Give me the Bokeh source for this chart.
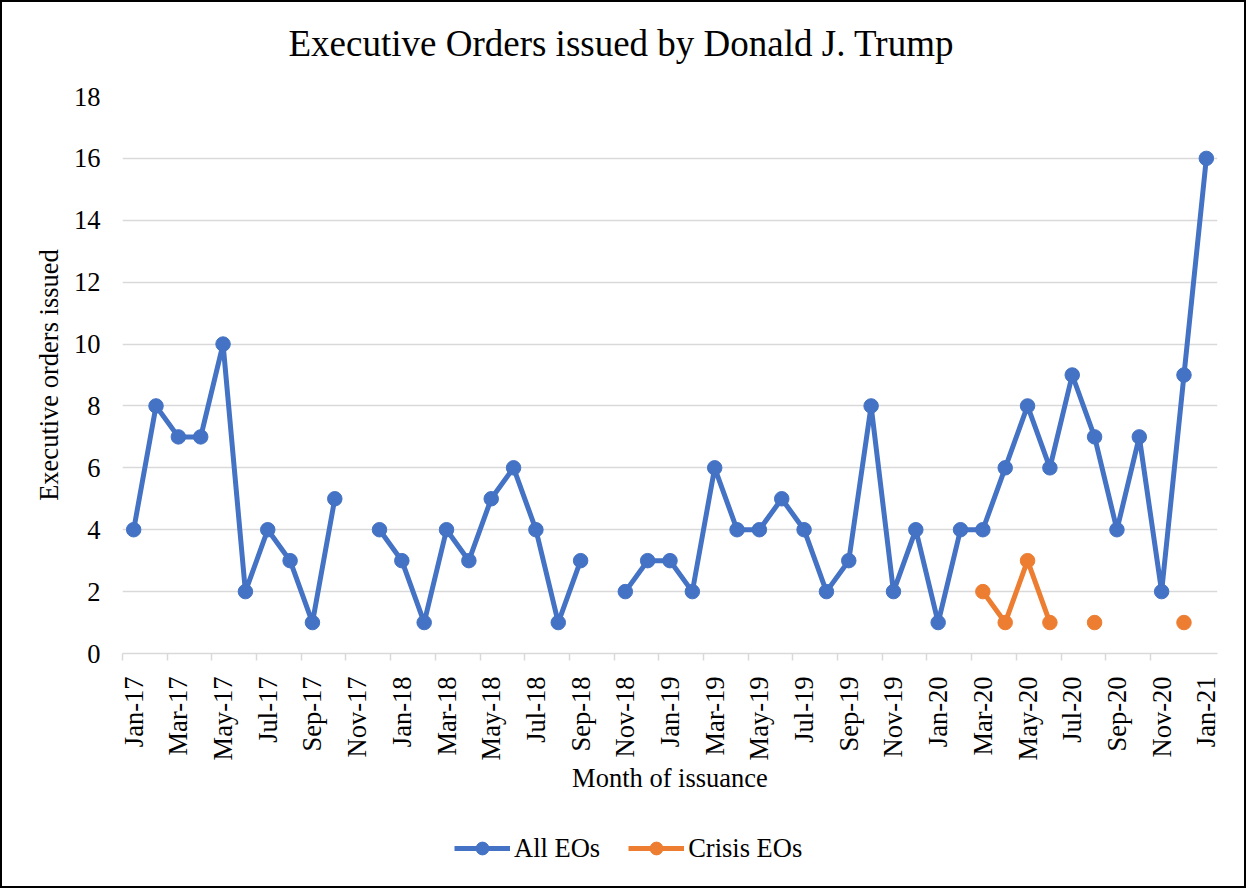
import math
import numpy as np
from bokeh.plotting import figure
from bokeh.layouts import column
from bokeh.models import ColumnDataSource, FixedTicker, Range1d, Legend, LegendItem, Title
from bokeh.embed import file_html
from bokeh.resources import INLINE

# ---------------- data ----------------
months = [
    "Jan-17", "Feb-17", "Mar-17", "Apr-17", "May-17", "Jun-17", "Jul-17", "Aug-17", "Sep-17", "Oct-17", "Nov-17", "Dec-17",
    "Jan-18", "Feb-18", "Mar-18", "Apr-18", "May-18", "Jun-18", "Jul-18", "Aug-18", "Sep-18", "Oct-18", "Nov-18", "Dec-18",
    "Jan-19", "Feb-19", "Mar-19", "Apr-19", "May-19", "Jun-19", "Jul-19", "Aug-19", "Sep-19", "Oct-19", "Nov-19", "Dec-19",
    "Jan-20", "Feb-20", "Mar-20", "Apr-20", "May-20", "Jun-20", "Jul-20", "Aug-20", "Sep-20", "Oct-20", "Nov-20", "Dec-20",
    "Jan-21",
]
all_eos = [
    4, 8, 7, 7, 10, 2, 4, 3, 1, 5, None, 4,
    3, 1, 4, 3, 5, 6, 4, 1, 3, None, 2, 3,
    3, 2, 6, 4, 4, 5, 4, 2, 3, 8, 2, 4,
    1, 4, 4, 6, 8, 6, 9, 7, 4, 7, 2, 9,
    16,
]
crisis_eos = [
    None, None, None, None, None, None, None, None, None, None, None, None,
    None, None, None, None, None, None, None, None, None, None, None, None,
    None, None, None, None, None, None, None, None, None, None, None, None,
    None, None, 2, 1, 3, 1, None, 1, None, None, None, 1,
    None,
]
y_ticks = [0, 2, 4, 6, 8, 10, 12, 14, 16, 18]
series_names = ["All EOs", "Crisis EOs"]

FONT = "Liberation Serif"
BLUE = "#4472C4"
ORANGE = "#ED7D31"
GRID = "#D9D9D9"
LW = 5
MS = 14.5


def to_arr(vals):
    return np.array([np.nan if v is None else float(v) for v in vals])


idx = np.arange(len(months))
src_all = ColumnDataSource(dict(x=idx, y=to_arr(all_eos)))
src_cri = ColumnDataSource(dict(x=idx, y=to_arr(crisis_eos)))

# ---------------- main chart ----------------
p = figure(
    width=1242, height=801,
    output_backend="svg", toolbar_location=None,
    x_range=Range1d(-0.5, len(months) - 0.5),
    y_range=Range1d(0, 18),
    min_border_left=120, min_border_right=27, min_border_top=94, min_border_bottom=150,
)
p.outline_line_color = None
p.background_fill_color = "white"
p.border_fill_color = "white"

top_spacer = Title(text=" ", text_font_size="4px", standoff=19)
main_title = Title(
    text="Executive Orders issued by Donald J. Trump",
    align="left", offset=166, vertical_align="top", standoff=10,
    text_font=FONT, text_font_size="37px", text_font_style="normal", text_color="black",
)
p.add_layout(top_spacer, "above")
p.add_layout(main_title, "above")

p.line("x", "y", source=src_all, line_color=BLUE, line_width=LW, line_join="round")
p.scatter("x", "y", source=src_all, size=MS, fill_color=BLUE, line_color=BLUE)
p.line("x", "y", source=src_cri, line_color=ORANGE, line_width=LW, line_join="round")
p.scatter("x", "y", source=src_cri, size=MS, fill_color=ORANGE, line_color=ORANGE)

xax = p.xaxis[0]
xax.ticker = FixedTicker(ticks=list(range(0, len(months), 2)),
                         minor_ticks=[i - 0.5 for i in range(0, len(months) - 1, 2)])
xax.major_label_overrides = {i: months[i] for i in range(0, len(months), 2)}
xax.major_label_orientation = math.pi / 2
xax.major_tick_line_color = None
xax.major_tick_out = 0
xax.major_tick_in = 0
xax.minor_tick_line_color = GRID
xax.minor_tick_line_width = 1.5
xax.minor_tick_out = 7
xax.minor_tick_in = 0
xax.axis_line_color = GRID
xax.axis_line_width = 1.5
xax.major_label_standoff = 16
xax.major_label_text_font = FONT
xax.major_label_text_font_size = "26.5px"
xax.major_label_text_color = "black"
xax.axis_label = "Month of issuance"
xax.axis_label_text_font = FONT
xax.axis_label_text_font_size = "26.5px"
xax.axis_label_text_font_style = "normal"
xax.axis_label_text_color = "black"
xax.axis_label_standoff = 0

yax = p.yaxis[0]
yax.ticker = FixedTicker(ticks=y_ticks)
yax.axis_line_color = None
yax.major_tick_line_color = None
yax.minor_tick_line_color = None
yax.major_tick_out = 0
yax.major_tick_in = 0
yax.major_label_standoff = 22
yax.major_label_text_font = FONT
yax.major_label_text_font_size = "26.5px"
yax.major_label_text_color = "black"
yax.axis_label = "Executive orders issued"
yax.axis_label_text_font = FONT
yax.axis_label_text_font_size = "26.5px"
yax.axis_label_text_font_style = "normal"
yax.axis_label_text_color = "black"
yax.axis_label_standoff = 7

p.xgrid.grid_line_color = None
p.ygrid.grid_line_color = GRID
p.ygrid.grid_line_width = 1.5

# ---------------- legend strip ----------------
# The same series are drawn here only to carry the legend glyphs; the y range
# is chosen so that none of their points falls inside this strip.
lg = figure(
    width=1242, height=83,
    output_backend="svg", toolbar_location=None,
    x_range=Range1d(-0.5, len(months) - 0.5), y_range=Range1d(100, 101),
    x_axis_location=None, y_axis_location=None,
    min_border=0,
)
lg.outline_line_color = None
lg.grid.visible = False
lg.background_fill_color = "white"
lg.border_fill_color = "white"
k1 = lg.line("x", "y", source=src_all, line_color=BLUE, line_width=LW)
m1 = lg.scatter("x", "y", source=src_all, fill_color=BLUE, line_color=BLUE)
k2 = lg.line("x", "y", source=src_cri, line_color=ORANGE, line_width=LW)
m2 = lg.scatter("x", "y", source=src_cri, fill_color=ORANGE, line_color=ORANGE)

legend = Legend(
    items=[LegendItem(label=series_names[0], renderers=[k1, m1]),
           LegendItem(label=series_names[1], renderers=[k2, m2])],
    location=(332, 22),
    orientation="horizontal",
    glyph_width=56, glyph_height=32, label_height=32,
    label_standoff=4, spacing=28, padding=0, margin=0,
    border_line_color=None, background_fill_alpha=0,
    label_text_font=FONT, label_text_font_size="26.5px", label_text_color="black",
)
lg.add_layout(legend)

layout = column(p, lg, spacing=0, styles={"border": "2px solid black"})

open("out.html", "w").write(file_html(layout, INLINE))
